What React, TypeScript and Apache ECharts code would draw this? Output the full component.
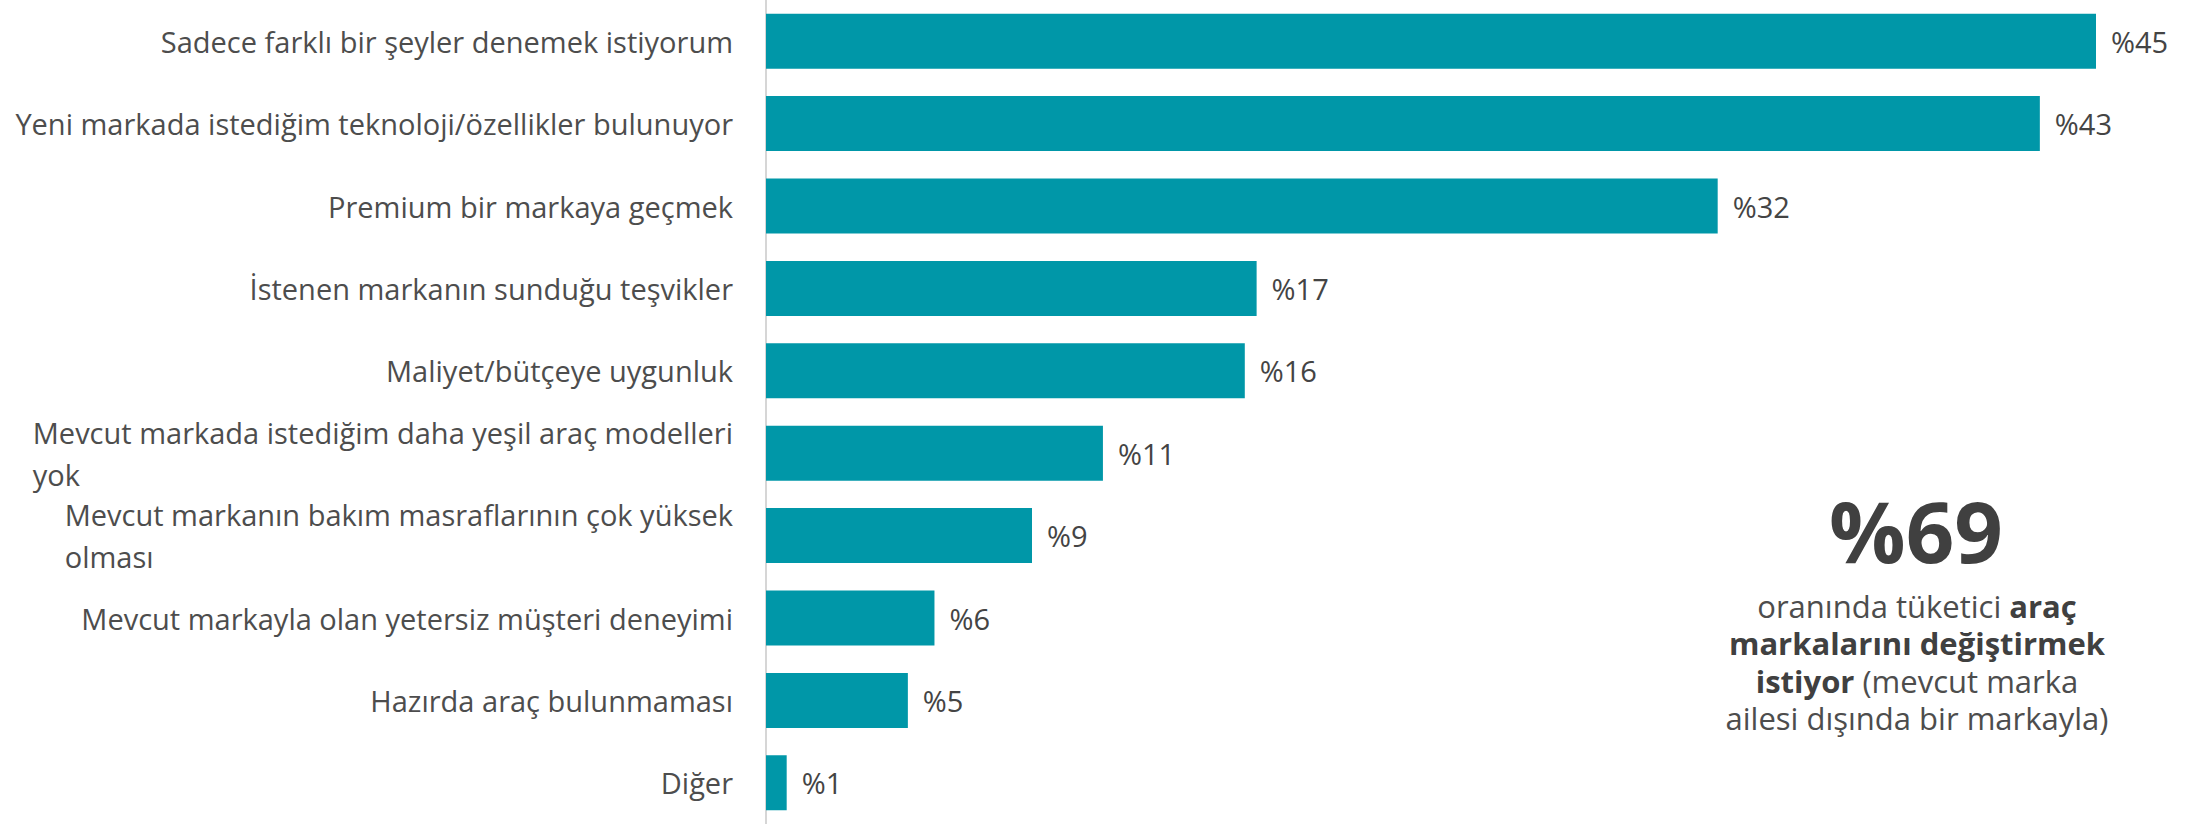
import React, { useEffect, useRef } from "react";
import * as echarts from "echarts";

const categories = [
  "Sadece farklı bir şeyler denemek istiyorum",
  "Yeni markada istediğim teknoloji/özellikler bulunuyor",
  "Premium bir markaya geçmek",
  "İstenen markanın sunduğu teşvikler",
  "Maliyet/bütçeye uygunluk",
  "Mevcut markada istediğim daha yeşil araç modelleri\nyok",
  "Mevcut markanın bakım masraflarının çok yüksek\nolması",
  "Mevcut markayla olan yetersiz müşteri deneyimi",
  "Hazırda araç bulunmaması",
  "Diğer",
];
const barValues = [45, 43.1, 32.2, 16.6, 16.2, 11.4, 9.0, 5.7, 4.8, 0.7];
const labelValues = [45, 43, 32, 17, 16, 11, 9, 6, 5, 1];

const headline = "%69";
const noteLines = [
  [["n", "oranında tüketici "], ["b", "araç"]],
  [["b", "markalarını değiştirmek"]],
  [["b", "istiyor"], ["n", " (mevcut marka"]],
  [["n", "ailesi dışında bir markayla)"]],
];

const FONT = "'Open Sans', 'Noto Sans', sans-serif";
const BAR = "#0097a8";
const TEXT = "#4d4d4d";

export default function App() {
  const ref = useRef<HTMLDivElement>(null);
  useEffect(() => {
    if (!ref.current) return;
    const chart = echarts.init(ref.current, null, { renderer: "svg" });
    const noteText = noteLines
      .map((line) => line.map(([s, t]) => `{${s}|${t}}`).join(""))
      .join("\n");
    chart.setOption({
      animation: false,
      grid: { left: 766, right: 104, top: -1, bottom: -6, containLabel: false },
      xAxis: { type: "value", min: 0, max: 45, show: false },
      yAxis: {
        type: "category",
        inverse: true,
        data: categories,
        axisLine: { show: true, lineStyle: { color: "#d6d6d6", width: 2 } },
        axisTick: { show: false },
        splitLine: { show: false },
        axisLabel: {
          margin: 33,
          fontSize: 29,
          color: TEXT,
          fontFamily: FONT,
          lineHeight: 42,
          formatter: (v: string) =>
            v
              .split("\n")
              .map((l) => `{l|${l}}`)
              .join("\n"),
          rich: {
            l: { align: "left", fontSize: 29, color: TEXT, fontFamily: FONT, lineHeight: 42 },
          },
        },
      },
      series: [
        {
          type: "bar",
          data: barValues,
          barWidth: 55,
          itemStyle: { color: BAR },
          label: {
            show: true,
            position: "right",
            distance: 15,
            fontSize: 29,
            fontFamily: FONT,
            color: "#444",
            formatter: (p: any) => "%" + labelValues[p.dataIndex],
          },
        },
      ],
      graphic: [
        {
          type: "text",
          x: 1916,
          y: 530,
          style: {
            text: headline,
            font: `bold 85px ${FONT}`,
            fill: "#404040",
            align: "center",
            verticalAlign: "middle",
          },
        },
        {
          type: "text",
          x: 1917,
          y: 662,
          style: {
            text: noteText,
            align: "center",
            verticalAlign: "middle",
            lineHeight: 37.5,
            fill: TEXT,
            font: `31px ${FONT}`,
            rich: {
              n: { align: "center", fontSize: 31, fontFamily: FONT, fill: TEXT, lineHeight: 37.5 },
              b: { align: "center", fontSize: 31, fontFamily: FONT, fontWeight: "bold", fill: "#404040", lineHeight: 37.5 },
            },
          },
        },
      ],
    });
    return () => chart.dispose();
  }, []);
  return (
    <div
      ref={ref}
      style={{ position: "fixed", left: 0, top: 0, width: 2200, height: 824, background: "#fff" }}
    />
  );
}
